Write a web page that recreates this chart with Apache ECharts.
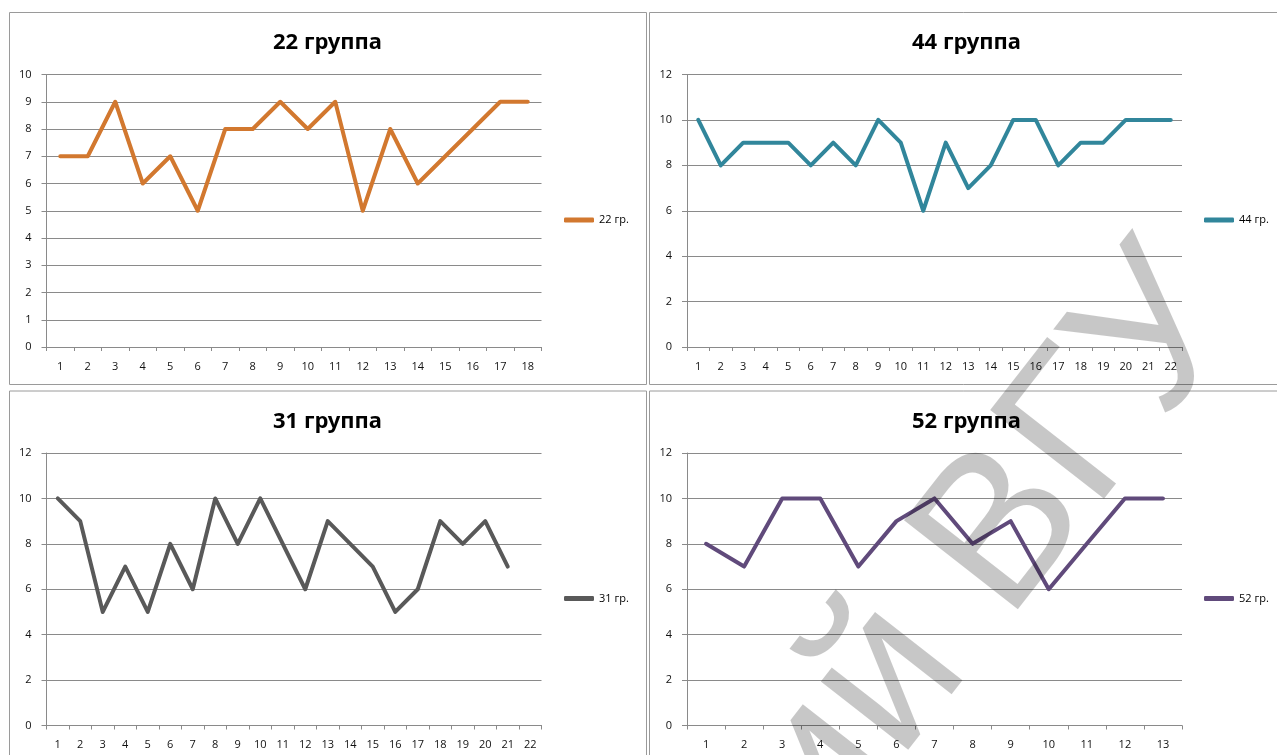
<!DOCTYPE html>
<html><head><meta charset="utf-8">
<script src="https://cdn.jsdelivr.net/npm/echarts@6/dist/echarts.min.js"></script>
<style>html,body{margin:0;padding:0;background:#fff}#c{width:1277px;height:755px}</style>
</head><body><div id="c"></div>
<script>
const titles = ['22 группа', '44 группа', '31 группа', '52 группа'];
const legendNames = ['22 гр.', '44 гр.', '31 гр.', '52 гр.'];
const cats22 = ['1','2','3','4','5','6','7','8','9','10','11','12','13','14','15','16','17','18'];
const cats44 = ['1','2','3','4','5','6','7','8','9','10','11','12','13','14','15','16','17','18','19','20','21','22'];
const cats31 = ['1','2','3','4','5','6','7','8','9','10','11','12','13','14','15','16','17','18','19','20','21','22'];
const cats52 = ['1','2','3','4','5','6','7','8','9','10','11','12','13'];
const values22 = [7,7,9,6,7,5,8,8,9,8,9,5,8,6,7,8,9,9];
const values44 = [10,8,9,9,9,8,9,8,10,9,6,9,7,8,10,10,8,9,9,10,10,10];
const values31 = [10,9,5,7,5,8,6,10,8,10,8,6,9,8,7,5,6,9,8,9,7];
const values52 = [8,7,10,10,7,9,10,8,9,6,8,10,10];
const yMax = [10, 12, 12, 12];
const yInterval = [1, 2, 2, 2];
const watermarkText = 'Репозиторий ВГУ';

const cats = [cats22, cats44, cats31, cats52];
const vals = [values22, values44, values31, values52];
const colors = ['#D2782F', '#31869B', '#595959', '#604A7B'];
// panel layout
const panelX = [9.5, 649.5, 9.5, 649.5];
const panelY = [12.5, 12.5, 391, 391];
const panelW = [637, 640, 637, 640];
const panelH = [372, 372, 400, 400];
const gridLeft = [46.5, 687, 46.5, 687];
const gridTop = [74.5, 74.5, 453, 453];
const gridW = 495, gridH = 272.5;
const titleX = [327.5, 966.5, 327.5, 966.5];
const legendX = [564, 1204, 564, 1204];

const axisGray = '#8a8a8a';
const labelFont = 'Open Sans';

const option = {
  backgroundColor: '#fff',
  animation: false,
  title: titles.map((t, i) => ({
    text: t, left: titleX[i], top: gridTop[i] - 42.5, textAlign: 'center', padding: 0,
    textStyle: { fontFamily: 'Noto Sans', fontWeight: 'bold', fontSize: 22, color: '#000' }
  })),
  legend: legendNames.map((n, i) => ({
    data: [n], left: legendX[i], top: gridTop[i] + 140, orient: 'vertical', padding: 0,
    icon: 'roundRect', itemWidth: 30, itemHeight: 5,
    textStyle: { fontFamily: labelFont, fontSize: 11, color: '#000' }
  })),
  grid: gridLeft.map((l, i) => ({ left: l, top: gridTop[i], width: gridW, height: gridH, containLabel: false })),
  xAxis: cats.map((c, i) => ({
    type: 'category', gridIndex: i, data: c, boundaryGap: true,
    axisLine: { lineStyle: { color: axisGray, width: 1 } },
    axisTick: { show: true, alignWithLabel: false, length: 4, lineStyle: { color: axisGray } },
    axisLabel: { interval: 0, margin: 14, fontFamily: labelFont, fontSize: 11, color: '#111' },
    splitLine: { show: false }
  })),
  yAxis: yMax.map((m, i) => ({
    type: 'value', gridIndex: i, min: 0, max: m, interval: yInterval[i],
    axisLine: { show: true, lineStyle: { color: axisGray, width: 1 } },
    axisTick: { show: true, length: 5, lineStyle: { color: axisGray } },
    axisLabel: { margin: 15, fontFamily: labelFont, fontSize: 11, color: '#111' },
    splitLine: { show: true, lineStyle: { color: axisGray, width: 1 } }
  })),
  series: vals.map((v, i) => ({
    type: 'line', name: legendNames[i], xAxisIndex: i, yAxisIndex: i, data: v,
    symbol: 'none', color: colors[i],
    lineStyle: { width: 4, color: colors[i], cap: 'round', join: 'round' }
  })),
  graphic: [
    ...panelX.map((x, i) => ({
      type: 'rect', z: 0, silent: true,
      shape: { x: x, y: panelY[i], width: panelW[i], height: panelH[i] },
      style: { fill: 'none', stroke: '#9a9a9a', lineWidth: 1 }
    })),
    {
      type: 'text', z: 100, silent: true, x: 1200, y: 282, rotation: 0.9076,
      style: {
        text: watermarkText, fontSize: 210, fontWeight: 'normal', fontFamily: 'Liberation Sans',
        fill: 'rgba(0,0,0,0.22)', align: 'right', verticalAlign: 'middle'
      }
    }
  ]
};
const chart = echarts.init(document.getElementById('c'), null, { renderer: 'canvas' });
chart.setOption(option);
</script></body></html>
